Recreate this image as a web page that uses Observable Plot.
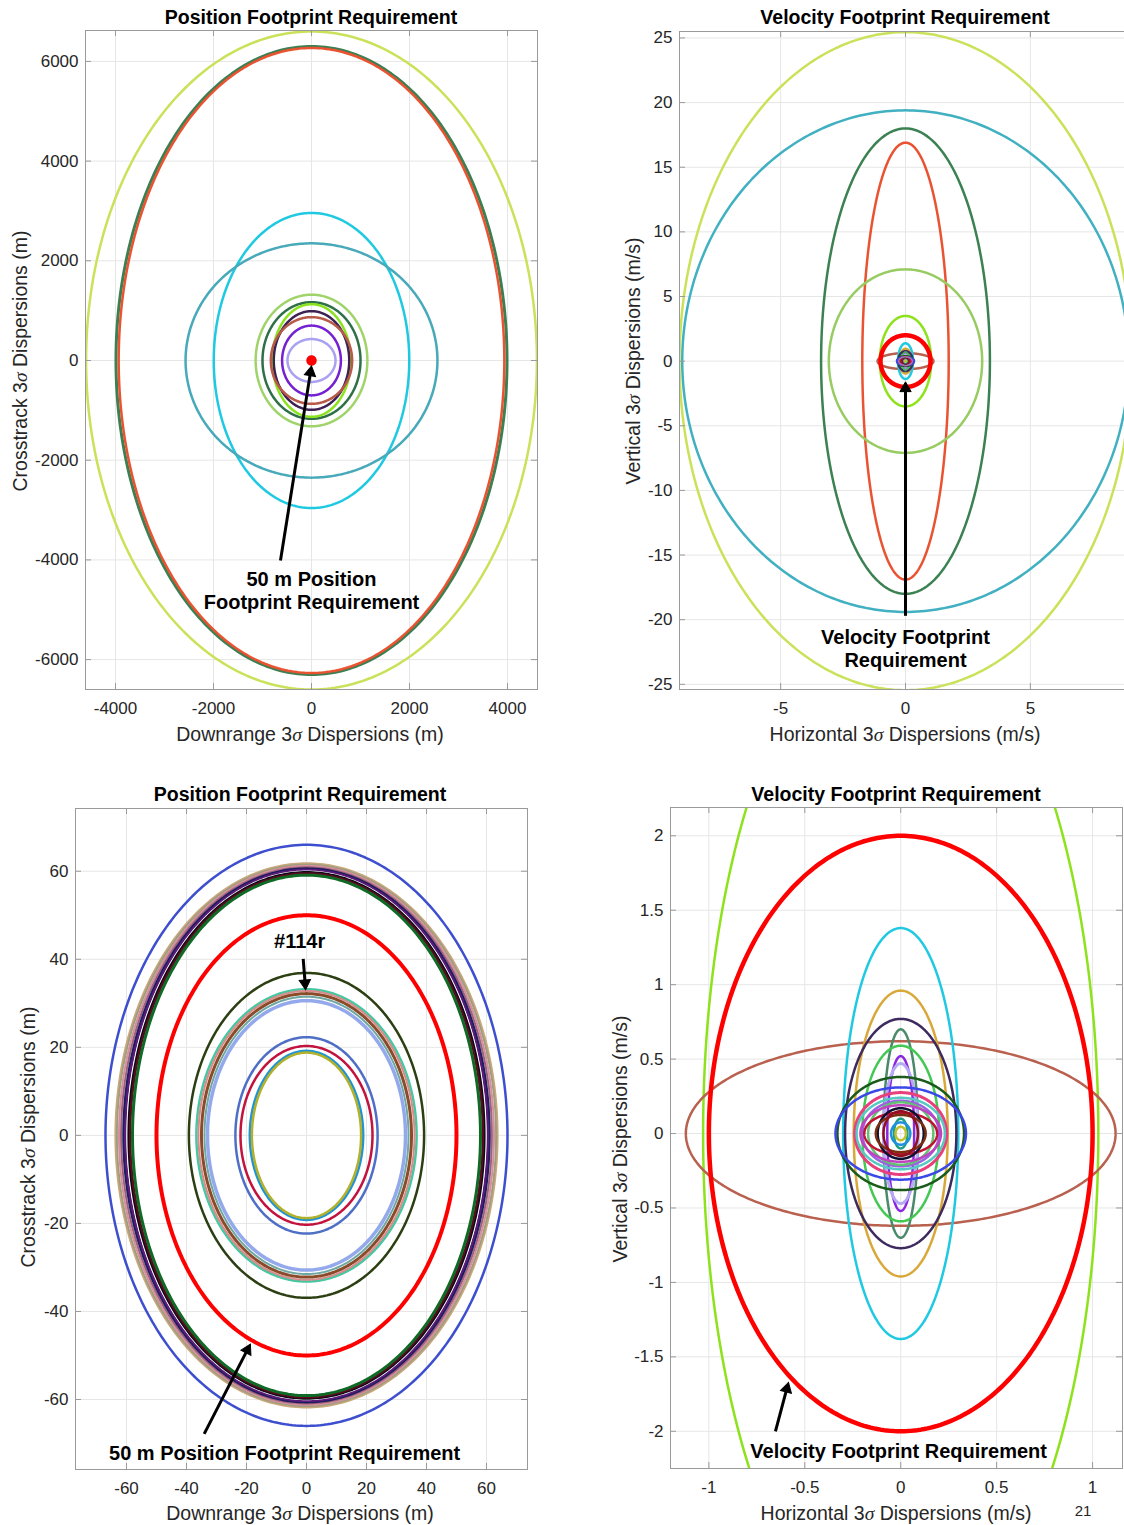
<!DOCTYPE html>
<html>
<head>
<meta charset="utf-8">
<script src="https://cdn.jsdelivr.net/npm/d3@7"></script>
<script src="https://cdn.jsdelivr.net/npm/@observablehq/plot@0.6"></script>
<style>
  html, body { margin: 0; padding: 0; background: #fff; overflow: hidden; }
  #page { position: relative; width: 1124px; height: 1525px; overflow: hidden; background: #fff;
          font-family: "Liberation Sans", Arial, Helvetica, sans-serif; }
  .panel { position: absolute; }
  .panel svg { max-width: none !important; display: block; }
  .txt { position: absolute; white-space: nowrap; transform: translate(-50%, -50%); z-index: 3; }
  .title { font-weight: bold; font-size: 19.5px; color: #000; }
  .axlabel { font-size: 19.5px; color: #262626; }
  .pageno { font-size: 15px; color: #262626; }
  .ylab { transform: translate(-50%, -50%) rotate(-90deg); }
  .sig { font-style: italic; font-family: "Liberation Serif", "DejaVu Serif", serif; }
</style>
</head>
<body>
<div id="page"></div>
<script>
// ---------- Position dispersions, full view (m): downrange / crosstrack 3-sigma semi-axes ----------
const posWideRx    = [4600, 3990, 3935, 1995, 2570, 1140, 1000, 800, 770, 830, 600, 490];
const posWideRy    = [6600, 6300, 6270, 2960, 2350, 1320, 1170, 1130, 990, 870, 700, 430];
const posWideColor = ["#c9e25a", "#3b7f52", "#ea5331", "#1fc9e1", "#47a9b9", "#a0d46a", "#2f7049",
                      "#8be21e", "#3d2152", "#b85a49", "#7421d2", "#a9a1f1"];
const posWideWidth = [2.5, 3, 2.5, 2.5, 2.5, 2.5, 2.5, 2.5, 2.5, 2.5, 2.5, 2.5];

// ---------- Position dispersions, close view (m) ----------
const posNearRx    = [67, 63.7, 63.2, 62.5, 61.8, 61.0, 60.4, 59.8, 59.2, 58.8, 58.0,
                      39.2, 36.7, 36.0, 35.0, 34.0, 33.0, 23.7, 22.0, 18.9, 18.2];
const posNearRy    = [66, 61.8, 61.5, 61.2, 60.9, 60.6, 60.3, 60.0, 59.7, 59.5, 59.1,
                      36.9, 33.2, 32.8, 32.2, 31.5, 30.6, 22.3, 20.3, 19.2, 18.8];
const posNearColor = ["#3d4fcf", "#c9a97a", "#a09c80", "#d49098", "#a06080", "#1d1d5c", "#5a1a7a",
                      "#ffffff", "#0a0a14", "#5a0a20", "#0f6a25",
                      "#2b3f12", "#45c7a2", "#d98a8a", "#8a4b2b", "#6fa7a3", "#93a9ec",
                      "#4f6fc6", "#c2123e", "#1f93d6", "#b1b12c"];
const posNearWidth = [2.5, 2, 2, 2, 2, 2.5, 2.5, 1.5, 3, 2.5, 3,
                      2.5, 2.5, 2, 3, 2, 3.5, 2.5, 2.5, 2.5, 2.5];

// Position footprint requirement (m)
const posReqRadius = 50;

// ---------- Velocity dispersions (m/s): horizontal / vertical 3-sigma semi-axes ----------
const velRx    = [9.05, 8.94, 3.38, 1.73, 3.07, 1.03, 1.12, 0.30, 0.245, 0.29, 0.09, 0.20, 0.07, 0.09,
                  0.33, 0.34, 0.24, 0.23, 0.20, 0.17, 0.21, 0.19, 0.12, 0.13, 0.09, 0.035, 0.05, 0.027];
const velRy    = [25.45, 19.4, 18.0, 16.9, 7.1, 3.5, 0.62, 1.38, 0.96, 0.77, 0.70, 0.59, 0.52, 0.47,
                  0.38, 0.31, 0.275, 0.24, 0.22, 0.21, 0.19, 0.14, 0.17, 0.125, 0.15, 0.10, 0.075, 0.045];
const velColor = ["#c9e25a", "#41b0c1", "#3b8152", "#ea5331", "#98cc62", "#8ee21c", "#b9604f", "#1fc9e1",
                  "#d9a83a", "#3d2a5f", "#4a8a6a", "#43c853", "#8a28e0", "#b6aaf5",
                  "#1a5a1a", "#3a48e8", "#e8407a", "#55c9c2", "#9a62e0", "#62c272", "#c043c0", "#c21232",
                  "#101030", "#7a3010", "#901020", "#20a080", "#2090e0", "#c0c030"];
const velWidth = [2.5, 2.5, 2.5, 2.5, 2.5, 2.5, 2.5, 2.5, 2.5, 2.5, 2.5, 2.5, 2.5, 3,
                  2.5, 2.5, 3, 2.5, 2.5, 2.5, 2.5, 2.5, 2.5, 2.5, 2.5, 2.5, 2.5, 2.5];

// Velocity footprint requirement (m/s)
const velReqRx = 1;
const velReqRy = 2;

// ---------- Axis ticks ----------
const posWideTicksX = [-4000, -2000, 0, 2000, 4000];
const posWideTicksY = [-6000, -4000, -2000, 0, 2000, 4000, 6000];
const velWideTicksX = [-5, 0, 5];
const velWideTicksY = [-25, -20, -15, -10, -5, 0, 5, 10, 15, 20, 25];
const posNearTicksX = [-60, -40, -20, 0, 20, 40, 60];
const posNearTicksY = [-60, -40, -20, 0, 20, 40, 60];
const velNearTicksX = [-1, -0.5, 0, 0.5, 1];
const velNearTicksY = [-2, -1.5, -1, -0.5, 0, 0.5, 1, 1.5, 2];

const FONT = '"Liberation Sans", Arial, Helvetica, sans-serif';
const GRID = "#e6e6e6";
const FRAME = "#9a9a9a";
const REQ = "#ff0000";

// Outline of an axis-aligned ellipse centred on the origin
function outline(rx, ry) {
  const n = 361;
  return d3.range(n).map(i => {
    const t = 2 * Math.PI * i / (n - 1);
    return {x: rx * Math.cos(t), y: ry * Math.sin(t)};
  });
}

function rings(rx, ry, color, width) {
  return rx.map((r, i) => Plot.line(outline(r, ry[i]), {
    x: "x", y: "y", stroke: color[i], strokeWidth: width[i], clip: true
  }));
}

function note(x, y, text) {
  return Plot.text([{x, y, text}], {
    x: "x", y: "y", text: "text", fill: "#000", fontSize: 20, fontWeight: "bold",
    lineHeight: 1.15, lineAnchor: "middle", textAnchor: "middle"
  });
}

function makePanel(cfg) {
  const innerW = cfg.width - cfg.marginLeft - cfg.marginRight;
  const innerH = cfg.height - cfg.marginTop - cfg.marginBottom;
  const kx = innerW / (cfg.xDomain[1] - cfg.xDomain[0]);   // pixels per x unit
  const ky = innerH / (cfg.yDomain[1] - cfg.yDomain[0]);   // pixels per y unit
  const tick = 6;
  const fmt = d => String(d);

  // Annotation arrow: black shaft with a filled triangular head
  const pointer = (x1, y1, x2, y2) => {
    const sx = (x2 - x1) * kx, sy = -(y2 - y1) * ky;
    const len = Math.hypot(sx, sy), ux = sx / len, uy = sy / len;
    const r = 4.2, tip = 1.555 * r;
    const back = tip + 1.2;
    const cx = x2 - (ux * tip) / kx, cy = y2 + (uy * tip) / ky;
    const ex = x2 - (ux * back) / kx, ey = y2 + (uy * back) / ky;
    const angle = Math.atan2(ux, -uy) * 180 / Math.PI;
    return [
      Plot.link([{x1, y1, x2: ex, y2: ey}], {x1: "x1", y1: "y1", x2: "x2", y2: "y2", stroke: "#000", strokeWidth: 3}),
      Plot.dot([{x: cx, y: cy}], {x: "x", y: "y", symbol: "triangle", r, fill: "#000", stroke: "#000", strokeWidth: 1, rotate: angle})
    ];
  };

  const chart = Plot.plot({
    width: cfg.width, height: cfg.height,
    marginLeft: cfg.marginLeft, marginRight: cfg.marginRight,
    marginTop: cfg.marginTop, marginBottom: cfg.marginBottom,
    style: {fontFamily: FONT, fontSize: "17px", color: "#262626", background: "#fff"},
    x: {domain: cfg.xDomain, ticks: cfg.xTicks, tickFormat: fmt, tickSize: 0, tickPadding: 12, label: null},
    y: {domain: cfg.yDomain, ticks: cfg.yTicks, tickFormat: fmt, tickSize: 0, tickPadding: 7, label: null},
    marks: [
      Plot.ruleX(cfg.xTicks, {stroke: GRID}),
      Plot.ruleY(cfg.yTicks, {stroke: GRID}),
      ...cfg.marks,
      ...cfg.arrows.flatMap(a => pointer(...a)),
      ...cfg.notes.map(n => note(...n)),
      Plot.ruleX(cfg.xTicks, {stroke: FRAME, insetTop: innerH - tick}),
      Plot.ruleX(cfg.xTicks, {stroke: FRAME, insetBottom: innerH - tick}),
      Plot.ruleY(cfg.yTicks, {stroke: FRAME, insetRight: innerW - tick}),
      Plot.ruleY(cfg.yTicks, {stroke: FRAME, insetLeft: innerW - tick}),
      Plot.frame({stroke: FRAME})
    ]
  });
  chart.style.maxWidth = "none";
  const holder = document.createElement("div");
  holder.className = "panel";
  holder.style.left = cfg.left + "px";
  holder.style.top = cfg.top + "px";
  holder.appendChild(chart);
  document.getElementById("page").appendChild(holder);
}

function label(html, cls, x, y) {
  const d = document.createElement("div");
  d.className = "txt " + cls;
  d.style.left = x + "px";
  d.style.top = y + "px";
  d.innerHTML = html;
  document.getElementById("page").appendChild(d);
}

const posMarks = [
  ...rings(posWideRx, posWideRy, posWideColor, posWideWidth),
  ...rings(posNearRx, posNearRy, posNearColor, posNearWidth)
];
const velMarks = rings(velRx, velRy, velColor, velWidth);

// Position footprint, full view
makePanel({
  left: 0, top: 0, width: 560, height: 760,
  marginLeft: 85, marginRight: 23, marginTop: 30, marginBottom: 71,
  xDomain: [-4612, 4612], yDomain: [-6600, 6620],
  xTicks: posWideTicksX, yTicks: posWideTicksY,
  marks: [
    ...posMarks,
    Plot.line(outline(posReqRadius, posReqRadius), {x: "x", y: "y", stroke: REQ, strokeWidth: 5.5, clip: true})
  ],
  arrows: [[-633, -4012, 0, -110]],
  notes: [[0, -4604, "50 m Position\nFootprint Requirement"]]
});

// Velocity footprint, full view
makePanel({
  left: 560, top: 0, width: 600, height: 760,
  marginLeft: 119, marginRight: 29, marginTop: 31, marginBottom: 71,
  xDomain: [-9.05, 9.05], yDomain: [-25.4, 25.5],
  xTicks: velWideTicksX, yTicks: velWideTicksY,
  marks: [
    ...velMarks,
    Plot.line(outline(velReqRx, velReqRy), {x: "x", y: "y", stroke: REQ, strokeWidth: 4.5, clip: true})
  ],
  arrows: [[0, -19.7, 0, -1.6]],
  notes: [[0, -22.2, "Velocity Footprint\nRequirement"]]
});

// Position footprint, close view
makePanel({
  left: 0, top: 770, width: 560, height: 755,
  marginLeft: 75, marginRight: 33, marginTop: 38, marginBottom: 56,
  xDomain: [-77, 73.67], yDomain: [-75.9, 74.25],
  xTicks: posNearTicksX, yTicks: posNearTicksY,
  marks: [
    ...posMarks,
    Plot.line(outline(posReqRadius, posReqRadius), {x: "x", y: "y", stroke: REQ, strokeWidth: 4, clip: true})
  ],
  arrows: [[-1.1, 40.1, -0.3, 33.1], [-34.1, -67.8, -18.7, -47.4]],
  notes: [[-2.3, 44.3, "#114r"], [-7.3, -72.0, "50 m Position Footprint Requirement"]]
});

// Velocity footprint, close view
makePanel({
  left: 560, top: 770, width: 600, height: 755,
  marginLeft: 110, marginRight: 38, marginTop: 37, marginBottom: 57,
  xDomain: [-1.2, 1.156], yDomain: [-2.25, 2.19],
  xTicks: velNearTicksX, yTicks: velNearTicksY,
  marks: [
    ...velMarks,
    Plot.line(outline(velReqRx, velReqRy), {x: "x", y: "y", stroke: REQ, strokeWidth: 4.5, clip: true})
  ],
  arrows: [[-0.653, -2.0, -0.585, -1.672]],
  notes: [[-0.011, -2.129, "Velocity Footprint Requirement"]]
});

// Titles and axis labels
const S = '<span class="sig">&sigma;</span>';
label("Position Footprint Requirement", "title", 311, 17);
label("Velocity Footprint Requirement", "title", 905, 17);
label("Position Footprint Requirement", "title", 300, 794);
label("Velocity Footprint Requirement", "title", 896, 794);

label("Downrange 3" + S + " Dispersions (m)", "axlabel", 310, 734);
label("Horizontal 3" + S + " Dispersions (m/s)", "axlabel", 905, 734);
label("Downrange 3" + S + " Dispersions (m)", "axlabel", 300, 1513);
label("Horizontal 3" + S + " Dispersions (m/s)", "axlabel", 896, 1513);

label("Crosstrack 3" + S + " Dispersions (m)", "axlabel ylab", 20, 361);
label("Vertical 3" + S + " Dispersions (m/s)", "axlabel ylab", 633, 361);
label("Crosstrack 3" + S + " Dispersions (m)", "axlabel ylab", 28, 1137);
label("Vertical 3" + S + " Dispersions (m/s)", "axlabel ylab", 620, 1139);

label("21", "pageno", 1083, 1510);
</script>
</body>
</html>
